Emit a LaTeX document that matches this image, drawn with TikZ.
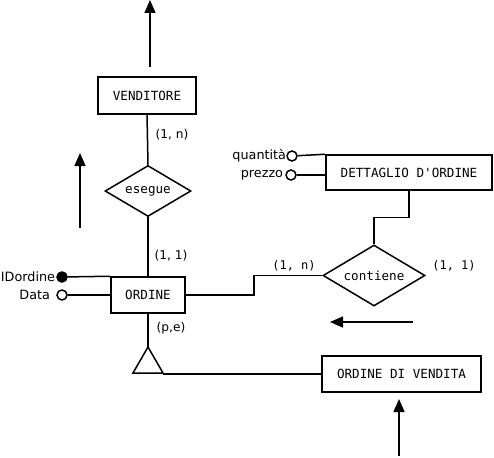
\documentclass[tikz,border=0pt]{standalone}
\usepackage{fontspec}
\setmainfont{DejaVu Sans}
\newfontfamily\boxfont{DejaVu Sans Mono}
\usetikzlibrary{shapes.geometric,arrows.meta}
\begin{document}
\begin{tikzpicture}[x=1pt,y=-1pt,
  ent/.style={draw,line width=1.5pt,inner sep=0pt,font=\boxfont\fontsize{12.6}{14}\selectfont},
  rel/.style={draw,diamond,line width=1.5pt,inner sep=0pt,font=\boxfont\fontsize{12.6}{14}\selectfont},
  conn/.style={line width=1.5pt},
  card/.style={font=\fontsize{12.2}{14}\selectfont,inner sep=0pt},
  cardm/.style={font=\boxfont\fontsize{12}{14}\selectfont,inner sep=0pt},
  attr/.style={circle,draw,line width=1.5pt,minimum size=10pt,inner sep=0pt,fill=white},
  attrk/.style={attr,fill=black},
  attrlbl/.style={font=\fontsize{12.8}{15}\selectfont,inner sep=0pt},
  flow/.style={line width=1.5pt,-{Triangle[length=13pt,width=11pt]}}]
\useasboundingbox (0,0) rectangle (494,457);
% entities
\node[ent,minimum width=98pt,minimum height=37pt] (vend) at (147,95.5) {VENDITORE};
\node[ent,minimum width=74pt,minimum height=36pt] (ordine) at (148,295) {ORDINE};
\node[ent,minimum width=166pt,minimum height=35pt] (dett) at (409,172.5) {DETTAGLIO D'ORDINE};
\node[ent,minimum width=159pt,minimum height=36pt] (ordven) at (401.5,374) {ORDINE DI VENDITA};
% relationships
\node[rel,minimum width=86pt,minimum height=51pt,shape aspect=1.7] (esegue) at (148,191) {esegue};
\node[rel,minimum width=102pt,minimum height=61pt,shape aspect=1.7] (contiene) at (374,275.5) {contiene};
% generalization triangle
\coordinate (isatop) at (148,347);
\coordinate (isal) at (133,373);
\coordinate (isar) at (163,373);
\draw[conn,line join=miter] (isatop) -- (isal) -- (isar) -- cycle;
% connectors
\draw[conn] (vend.south) -- (esegue.north);
\draw[conn] (esegue.south) -- (ordine.north);
\draw[conn] (ordine.east) -- ++(68,0) |- (contiene.west);
\draw[conn] (contiene.north) -- ++(0,-27) -| (dett.south);
\draw[conn] (ordine.south) -- (isatop);
\draw[conn] (isar) ++(0,1) -- (ordven.west);
% cardinalities
\node[card] (c1) at (172,135) {(1, n)};
\node[card] (c2) at (171,256) {(1, 1)};
\node[cardm] (c3) at (294,266) {(1, n)};
\node[cardm] (c4) at (454,266) {(1, 1)};
\node[card] (c5) at (171,328) {(p,e)};
% attributes
\node[attrk] (idord) at (62,277) {};
\node[attr] (data) at (62,295) {};
\node[attr] (quant) at (292,156) {};
\node[attr] (prezzo) at (291,175) {};
\draw[conn] (idord) -- (ordine.north west);
\draw[conn] (data) -- (ordine.west);
\draw[conn] (quant) -- (dett.north west);
\draw[conn] (prezzo) -- (dett.west |- prezzo);
\node[attrlbl,anchor=east] (lid) at ([xshift=-1pt]idord.west) {IDordine};
\node[attrlbl,anchor=east] (ldata) at ([xshift=-6pt]data.west) {Data};
\node[attrlbl,anchor=east] (lquant) at ([xshift=0pt]quant.west) {quantità};
\node[attrlbl,anchor=east] (lprezzo) at ([xshift=-2pt]prezzo.west) {prezzo};
% free arrows
\coordinate (a1s) at (150,67); \coordinate (a1e) at (150,0);
\coordinate (a2s) at (80,228); \coordinate (a2e) at (80,153);
\coordinate (a3s) at (413,322); \coordinate (a3e) at (330,322);
\coordinate (a4s) at (399,456); \coordinate (a4e) at (399,399);
\draw[flow] (a1s) -- (a1e);
\draw[flow] (a2s) -- (a2e);
\draw[flow] (a3s) -- (a3e);
\draw[flow] (a4s) -- (a4e);
\end{tikzpicture}
\end{document}
